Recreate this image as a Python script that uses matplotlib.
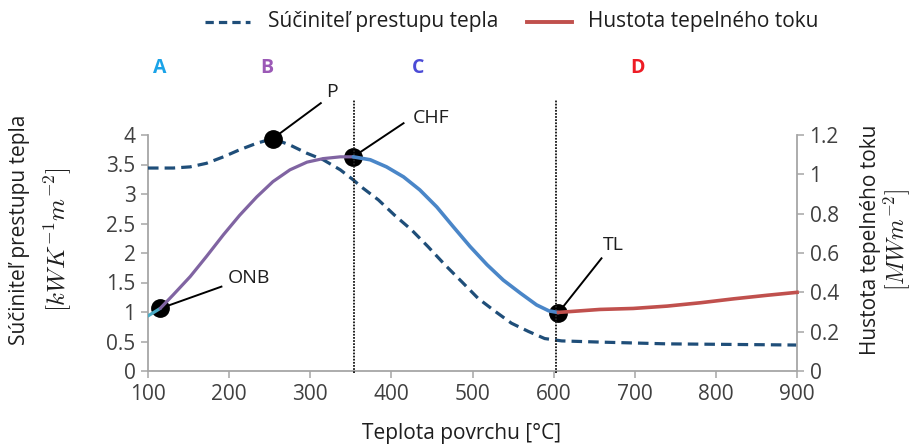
import matplotlib
matplotlib.use("Agg")
import matplotlib.pyplot as plt
from matplotlib.lines import Line2D

plt.rcParams['font.family'] = ['Open Sans', 'DejaVu Sans']
plt.rcParams['mathtext.fontset'] = 'cm'

# Heat transfer coefficient (left axis, kW K^-1 m^-2)
htc_x = [100, 131, 152, 172, 193, 213, 234, 254, 275, 296, 316, 337, 353, 363, 384, 404,
         425, 445, 466, 487, 507, 528, 548, 569, 589, 610, 657, 740, 822, 900]
htc_y = [3.44, 3.44, 3.46, 3.52, 3.63, 3.75, 3.86, 3.94, 3.83, 3.69, 3.58, 3.41, 3.24, 3.12,
         2.90, 2.64, 2.39, 2.11, 1.80, 1.51, 1.23, 1.01, 0.81, 0.67, 0.55, 0.51, 0.49, 0.46,
         0.45, 0.44]

# Heat flux (right axis, MW m^-2), by regime
qA_x = [100, 115]
qA_y = [0.280, 0.318]
qB_x = [115, 131, 152, 172, 193, 213, 234, 254, 275, 296, 316, 337, 353]
qB_y = [0.318, 0.387, 0.480, 0.582, 0.693, 0.792, 0.885, 0.963, 1.023, 1.062, 1.080, 1.089, 1.089]
qC_x = [353, 374, 394, 415, 435, 456, 476, 497, 518, 538, 559, 579, 594, 606]
qC_y = [1.089, 1.074, 1.038, 0.987, 0.921, 0.834, 0.735, 0.633, 0.540, 0.462, 0.396, 0.336, 0.306, 0.297]
qD_x = [606, 657, 698, 740, 781, 822, 863, 900]
qD_y = [0.298, 0.313, 0.318, 0.330, 0.347, 0.367, 0.385, 0.400]

# Special points (left-axis units)
pts_names = ['ONB', 'P', 'CHF', 'TL']
pts_x = [115, 254, 353, 606]
pts_y = [1.06, 3.94, 3.63, 0.99]

# Regime boundaries
bounds_x = [354, 603]

regions = ['A', 'B', 'C', 'D']
regions_colors = ['#1aa3e8', '#9b59b6', '#4b4bd6', '#ee1c25']

x_ticks = [100, 200, 300, 400, 500, 600, 700, 800, 900]
yl_ticks = [0, 0.5, 1, 1.5, 2, 2.5, 3, 3.5, 4]
yl_labels = ['0', '0.5', '1', '1.5', '2', '2.5', '3', '3.5', '4']
yr_ticks = [0, 0.2, 0.4, 0.6, 0.8, 1.0, 1.2]
yr_labels = ['0', '0.2', '0.4', '0.6', '0.8', '1', '1.2']

W, H = 913, 446
fig = plt.figure(figsize=(W / 100, H / 100), dpi=100)
ax = fig.add_axes([148 / W, 1 - 371 / H, (797 - 148) / W, (371 - 135) / H])
ax2 = ax.twinx()

tick_color = '#404040'
spine_color = '#a6a6a6'
txt_color = '#1e1e1e'
dash_color = '#1f4e79'

ax.set_xlim(100, 900)
ax.set_ylim(0, 4)
ax2.set_ylim(0, 1.2)

dash_style = (0, (3.3, 1.9))
ax.plot(htc_x, htc_y, color=dash_color, lw=2.3, ls=dash_style, zorder=3, clip_on=False)
ax2.plot(qA_x, qA_y, color='#4bacc6', lw=2.3, zorder=3, solid_capstyle='round')
ax2.plot(qB_x, qB_y, color='#8064a2', lw=2.3, zorder=3, solid_capstyle='round')
ax2.plot(qC_x, qC_y, color='#4a86c8', lw=2.6, zorder=3, solid_capstyle='round')
ax2.plot(qD_x, qD_y, color='#c0504d', lw=2.6, zorder=3, clip_on=False)

for vx in bounds_x:
    ax2.plot([vx, vx], [-0.01, 1.38], color='#222222', lw=1.4, ls=(0, (0.9, 0.7)),
             clip_on=False, zorder=2)

ax.plot(pts_x, pts_y, 'o', color='black', ms=12.5, zorder=5, clip_on=False)

ends = {'ONB': (190.5, 1.43), 'P': (313, 4.54), 'CHF': (415, 4.20), 'TL': (659, 1.91)}
texts = {'ONB': (198, 1.58), 'P': (319, 4.73), 'CHF': (426, 4.28), 'TL': (661, 2.14)}
for n, px, py in zip(pts_names, pts_x, pts_y):
    ex, ey = ends[n]
    ax.plot([px, ex], [py, ey], color='black', lw=1.4, clip_on=False, zorder=4)
    tx, ty = texts[n]
    ax.text(tx, ty, n, fontsize=14, color=txt_color, ha='left', va='center', clip_on=False)

regions_px = [160, 267, 418, 637]
for r, rx, rc in zip(regions, regions_px, regions_colors):
    fig.text(rx / W, 1 - 68 / H, r, color=rc, fontsize=14, fontweight='bold',
             ha='center', va='center')

ax.set_xticks(x_ticks)
ax.set_yticks(yl_ticks)
ax.set_yticklabels(yl_labels)
ax2.set_yticks(yr_ticks)
ax2.set_yticklabels(yr_labels)
for a in (ax, ax2):
    a.tick_params(axis='both', colors=spine_color, labelcolor=tick_color, labelsize=15,
                  length=5, direction='out', width=1.1, pad=4)
    a.spines['top'].set_visible(False)
    for s in ['left', 'right', 'bottom']:
        a.spines[s].set_color(spine_color)
        a.spines[s].set_linewidth(1.3)
ax.spines['right'].set_visible(False)
ax2.spines['left'].set_visible(False)
ax2.spines['bottom'].set_visible(False)

fig.text(461 / W, 1 - 433 / H, 'Teplota povrchu [°C]', fontsize=15, color=txt_color,
         ha='center', va='center')
fig.text(20 / W, 1 - 230 / H, 'Súčiniteľ prestupu tepla', rotation=90, fontsize=15,
         color=txt_color, ha='center', va='center')
fig.text(58 / W, 1 - 240 / H, r'$[kW K^{-1} m^{-2}]$', rotation=90, fontsize=18,
         color=txt_color, ha='center', va='center')
fig.text(870 / W, 1 - 240 / H, 'Hustota tepelného toku', rotation=90, fontsize=15,
         color=txt_color, ha='center', va='center')
fig.text(897 / W, 1 - 240 / H, r'$[MW m^{-2}]$', rotation=90, fontsize=17,
         color=txt_color, ha='center', va='center')

# Legend (placed manually)
ly = 1 - 22 / H
fig.add_artist(Line2D([205 / W, 250 / W], [ly, ly], color=dash_color, lw=2.3,
                      ls=(0, (2.6, 1.6)), transform=fig.transFigure))
fig.text(268 / W, ly, 'Súčiniteľ prestupu tepla', fontsize=15, color=txt_color,
         ha='left', va='center')
fig.add_artist(Line2D([527 / W, 572 / W], [ly, ly], color='#c0504d', lw=2.8,
                      transform=fig.transFigure))
fig.text(588 / W, ly, 'Hustota tepelného toku', fontsize=15, color=txt_color,
         ha='left', va='center')

fig.savefig('out.png', dpi=100)
